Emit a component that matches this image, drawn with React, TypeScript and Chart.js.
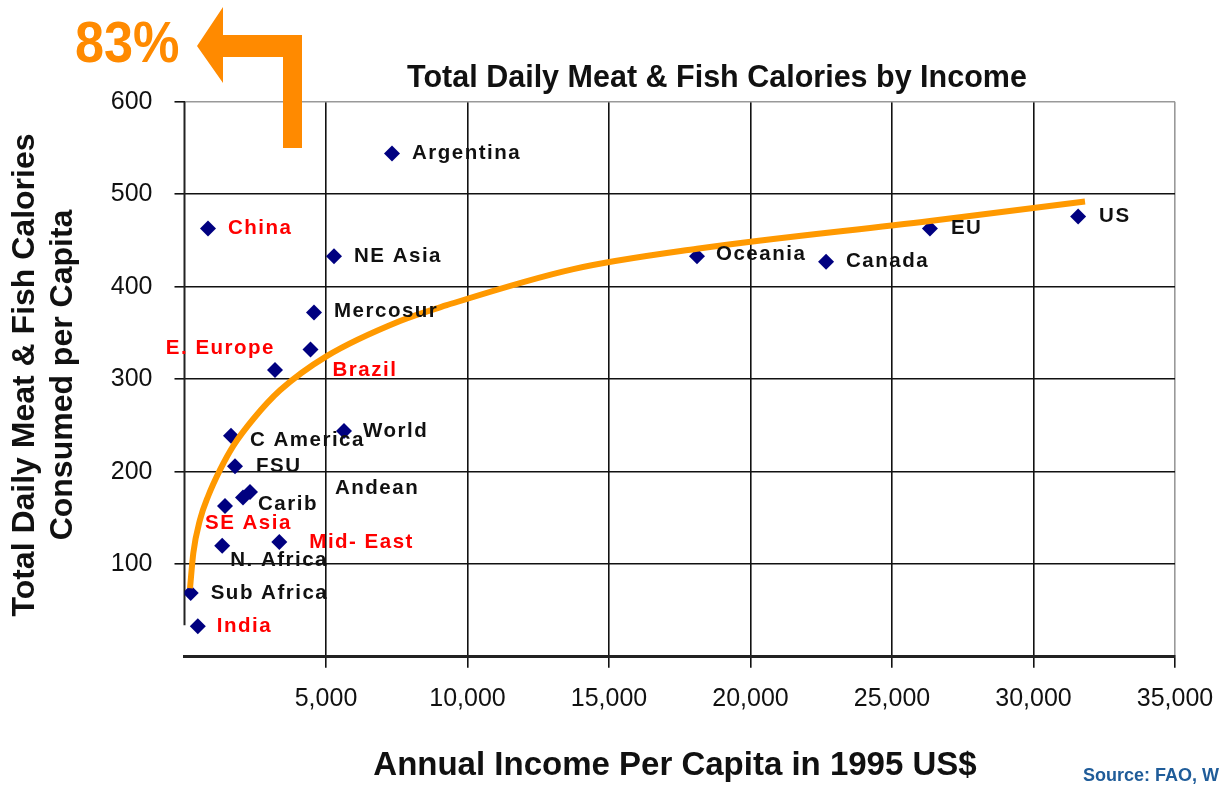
import React, { useEffect, useRef } from 'react';
import { Chart, registerables } from 'chart.js';

Chart.register(...registerables);

// ---- data ----
const regionNames = [
  'Argentina', 'China', 'NE Asia', 'Mercosur', 'Brazil', 'E. Europe', 'C America', 'World',
  'FSU', 'Carib', 'Andean', 'SE Asia', 'N. Africa', 'Mid- East', 'Sub Africa', 'India',
  'Oceania', 'Canada', 'EU', 'US',
];
const incomeUSD = [
  7333, 830, 5283, 4577, 4453, 3198, 1643, 5636,
  1785, 2067, 2315, 1431, 1332, 3350, 219, 470,
  18110, 22670, 26340, 31576,
];
const meatFishCalories = [
  544, 463, 433, 372, 332, 310, 239, 244,
  206, 172, 178, 163, 120, 124, 69, 33,
  433, 427, 463, 476,
];
const highlightedRegions = ['China', 'Brazil', 'E. Europe', 'SE Asia', 'Mid- East', 'India'];

// trend curve
const trendIncome = [195, 311, 548, 841, 1255, 1725, 2431, 3375, 5025, 7616, 9266, 13740, 18110, 26340, 31820];
const trendCalories = [74, 112, 148, 174, 202, 228, 257, 288, 325, 363, 380, 419, 441, 471, 492];

const xTickValues = [0, 5000, 10000, 15000, 20000, 25000, 30000, 35000];
const yTickValues = [0, 100, 200, 300, 400, 500, 600];

// ---- layout of labels (pixel offsets from each point) ----
const labelDx = [20, 20, 20, 20, 22, 0, 19, 19, 21, 15, 85, -20, 8, 30, 20, 19, 19, 20, 21, 21];
const labelDy = [0, 0, 0, -1, 21, -22, 5, 0, 0, 7, -4, 17, 15, 0, 0, 0, -2, 0, 0, 0];
const labelAlign: CanvasTextAlign[] = [
  'left', 'left', 'left', 'left', 'left', 'right', 'left', 'left', 'left', 'left',
  'left', 'left', 'left', 'left', 'left', 'left', 'left', 'left', 'left', 'left',
];

const FONT = 'Arial, "Liberation Sans", Helvetica, sans-serif';
const ORANGE = '#FF8A00';

const decorPlugin = {
  id: 'decor',
  beforeDatasetsDraw(chart: any) {
    const { ctx, chartArea, scales } = chart;
    const y = scales.y;
    ctx.save();
    ctx.strokeStyle = '#222';
    ctx.lineWidth = 2;
    ctx.beginPath();
    ctx.moveTo(chartArea.left, y.getPixelForValue(600));
    ctx.lineTo(chartArea.left, y.getPixelForValue(34));
    ctx.stroke();
    ctx.restore();
  },
  afterDatasetsDraw(chart: any) {
    const { ctx } = chart;
    const meta = chart.getDatasetMeta(1);
    ctx.save();
    ctx.font = `bold 20.5px ${FONT}`;
    (ctx as any).letterSpacing = '1.5px';
    ctx.textBaseline = 'middle';
    meta.data.forEach((el: any, i: number) => {
      const name = regionNames[i];
      ctx.fillStyle = highlightedRegions.includes(name) ? '#FF0000' : '#111111';
      ctx.textAlign = labelAlign[i];
      ctx.fillText(name, el.x + labelDx[i], el.y + labelDy[i]);
    });
    (ctx as any).letterSpacing = '0px';
    ctx.restore();
  },
  afterDraw(chart: any) {
    const { ctx } = chart;
    ctx.save();
    // main title
    ctx.fillStyle = '#111';
    ctx.textAlign = 'center';
    ctx.textBaseline = 'middle';
    ctx.font = `bold 30.5px ${FONT}`;
    ctx.fillText('Total Daily Meat & Fish Calories by Income', 717, 79);
    // x title
    ctx.font = `bold 33px ${FONT}`;
    ctx.fillText('Annual Income Per Capita in 1995 US$', 675, 766);
    // y title
    ctx.save();
    ctx.translate(25, 375);
    ctx.rotate(-Math.PI / 2);
    ctx.font = `bold 32px ${FONT}`;
    ctx.fillText('Total Daily Meat & Fish Calories', 0, 0);
    ctx.fillText('Consumed per Capita', 0, 38);
    ctx.restore();
    // 83% callout
    ctx.save();
    ctx.fillStyle = ORANGE;
    ctx.translate(75, 62);
    ctx.scale(0.9, 1);
    ctx.textAlign = 'left';
    ctx.textBaseline = 'alphabetic';
    ctx.font = `bold 58px ${FONT}`;
    ctx.fillText('83%', 0, 0);
    ctx.restore();
    // arrow
    ctx.fillStyle = ORANGE;
    ctx.beginPath();
    ctx.moveTo(197, 46);
    ctx.lineTo(223, 7);
    ctx.lineTo(223, 35);
    ctx.lineTo(302, 35);
    ctx.lineTo(302, 148);
    ctx.lineTo(283, 148);
    ctx.lineTo(283, 57);
    ctx.lineTo(223, 57);
    ctx.lineTo(223, 83);
    ctx.closePath();
    ctx.fill();
    // source
    ctx.fillStyle = '#1F5C99';
    ctx.textAlign = 'left';
    ctx.textBaseline = 'middle';
    ctx.font = `bold 18px ${FONT}`;
    ctx.fillText('Source: FAO, W', 1083, 776);
    ctx.restore();
  },
};

export default function App() {
  const ref = useRef<HTMLCanvasElement | null>(null);
  useEffect(() => {
    if (!ref.current) return;
    const chart = new Chart(ref.current, {
      type: 'scatter',
      data: {
        datasets: [
          {
            type: 'line',
            label: 'Trend',
            data: trendIncome.map((x, i) => ({ x, y: trendCalories[i] })),
            borderColor: '#FF9900',
            borderWidth: 6,
            pointRadius: 0,
            cubicInterpolationMode: 'monotone',
            fill: false,
            order: 0,
          } as any,
          {
            type: 'scatter',
            label: 'Regions',
            data: incomeUSD.map((x, i) => ({ x, y: meatFishCalories[i] })),
            pointStyle: 'rectRot',
            pointRadius: 8,
            backgroundColor: '#000080',
            borderColor: '#000080',
            borderWidth: 0,
            order: 1,
          } as any,
        ],
      },
      options: {
        animation: false,
        responsive: false,
        layout: { padding: { top: 101.7, right: 46, bottom: 0, left: 0 } },
        plugins: {
          legend: { display: false },
          tooltip: { enabled: false },
          title: { display: false },
        },
        scales: {
          x: {
            type: 'linear',
            min: 0,
            max: 35000,
            afterBuildTicks: (s: any) => {
              s.ticks = xTickValues.map((v) => ({ value: v }));
            },
            afterFit: (s: any) => {
              s.height = 128.3;
            },
            border: { display: true, color: '#222', width: 3 },
            grid: {
              color: (c: any) =>
                c.tick && c.tick.value === 0 ? 'rgba(0,0,0,0)' : c.tick && c.tick.value === 35000 ? '#999' : '#111',
              tickColor: (c: any) => (c.tick && c.tick.value === 0 ? 'rgba(0,0,0,0)' : '#111'),
              lineWidth: 1.6,
              tickLength: 11,
            },
            ticks: {
              padding: 6,
              color: '#111',
              font: { family: FONT, size: 25, lineHeight: 2 },
              maxRotation: 0,
              autoSkip: false,
              callback: (v: any) => (v === 0 ? '' : Number(v).toLocaleString('en-US')),
            },
          },
          y: {
            type: 'linear',
            min: 0,
            max: 600,
            afterBuildTicks: (s: any) => {
              s.ticks = yTickValues.map((v) => ({ value: v }));
            },
            afterFit: (s: any) => {
              s.width = 184.5;
            },
            border: { display: false },
            grid: {
              color: (c: any) =>
                c.tick && c.tick.value === 0 ? 'rgba(0,0,0,0)' : c.tick && c.tick.value === 600 ? '#999' : '#111',
              tickColor: (c: any) => (c.tick && c.tick.value === 0 ? 'rgba(0,0,0,0)' : '#111'),
              lineWidth: 1.6,
              tickLength: 10,
            },
            ticks: {
              padding: 22,
              color: '#111',
              font: { family: FONT, size: 25 },
              autoSkip: false,
              callback: (v: any) => (v === 0 ? '' : String(v)),
            },
          },
        },
      },
      plugins: [decorPlugin],
    });
    return () => chart.destroy();
  }, []);
  return (
    <div style={{ position: 'absolute', left: 0, top: 0, width: 1221, height: 785, background: '#fff' }}>
      <canvas ref={ref} width={1221} height={785} style={{ display: 'block' }} />
    </div>
  );
}
